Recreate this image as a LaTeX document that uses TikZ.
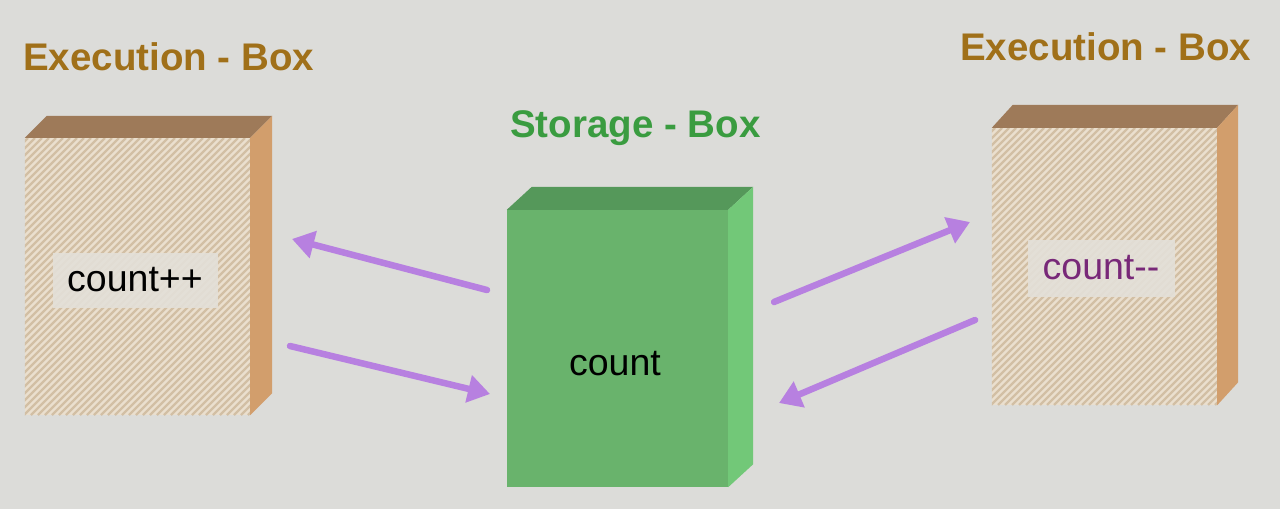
\documentclass[tikz,border=0pt]{standalone}
\usepackage{fontspec}
\setmainfont{Liberation Sans}
\usetikzlibrary{calc,arrows.meta}
\definecolor{bg}{RGB}{220,220,217}
\definecolor{exfront}{RGB}{234,223,206}
\definecolor{exhatch}{RGB}{210,191,164}
\definecolor{extop}{RGB}{158,122,89}
\definecolor{exside}{RGB}{210,158,108}
\definecolor{stfront}{RGB}{105,179,108}
\definecolor{sttop}{RGB}{85,152,90}
\definecolor{stside}{RGB}{114,200,120}
\definecolor{gold}{RGB}{160,112,25}
\definecolor{titlegreen}{RGB}{58,156,64}
\definecolor{arrowc}{RGB}{183,128,224}
\definecolor{lblbg}{RGB}{227,224,217}
\definecolor{minus}{RGB}{120,40,120}
\tikzset{
  frontface/.style={draw=none, rectangle, inner sep=0pt},
  titletext/.style={font=\bfseries\fontsize{38.5}{46}\selectfont, inner sep=0pt},
  lbl/.style={fill=lblbg, fill opacity=0.9, text opacity=1, inner sep=0pt, font=\fontsize{37.5}{44}\selectfont},
  hatch/.style={draw=exhatch, line width=2.4pt},
  flow/.style={draw=arrowc, line width=6.5pt, line cap=round, -{Triangle[length=22pt,width=27pt]}}
}
\begin{document}
\begin{tikzpicture}[x=1pt,y=-1pt]
\useasboundingbox (0,0) rectangle (1280,509);
\fill[bg] (0,0) rectangle (1280,509);

% ---------- left execution box ----------
\node[frontface, fill=exfront, minimum width=225, minimum height=277] (L) at (137.5,276.5) {};
\begin{scope}
  \clip (L.south west) rectangle (L.north east);
  \foreach \i in {-256,-249,...,252} \draw[hatch] (\i,415) -- (\i+277,138);
\end{scope}
\fill[extop] (L.north west) -- ++(22,-22) -- ($(L.north east)+(22,-22)$) -- (L.north east) -- cycle;
\fill[exside] (L.north east) -- ++(22,-22) -- ($(L.south east)+(22,-22)$) -- (L.south east) -- cycle;
\node[lbl, minimum width=165, minimum height=55] (Lc) at (135,280) {count++};
\node[titletext, text=gold, anchor=west] (Lt) at (23,57) {Execution - Box};

% ---------- storage box ----------
\node[frontface, fill=stfront, minimum width=221, minimum height=277] (S) at (617.5,348.5) {};
\fill[sttop] (S.north west) -- ++(25,-23) -- ($(S.north east)+(25,-23)$) -- (S.north east) -- cycle;
\fill[stside] (S.north east) -- ++(25,-23) -- ($(S.south east)+(25,-23)$) -- (S.south east) -- cycle;
\node[font=\fontsize{37.5}{44}\selectfont, inner sep=0pt] (Sc) at (615,364) {count};
\node[titletext, text=titlegreen, anchor=west] (St) at (510,128) {Storage - Box};

% ---------- right execution box ----------
\node[frontface, fill=exfront, minimum width=225, minimum height=277] (R) at (1104.5,266.5) {};
\begin{scope}
  \clip (R.south west) rectangle (R.north east);
  \foreach \i in {711,718,...,1222} \draw[hatch] (\i,405) -- (\i+277,128);
\end{scope}
\fill[extop] (R.north west) -- ++(21,-23) -- ($(R.north east)+(21,-23)$) -- (R.north east) -- cycle;
\fill[exside] (R.north east) -- ++(21,-23) -- ($(R.south east)+(21,-23)$) -- (R.south east) -- cycle;
\node[lbl, minimum width=147, minimum height=57, text=minus] (Rc) at (1101,268) {count{-}{-}};
\node[titletext, text=gold, anchor=west] (Rt) at (960,47) {Execution - Box};

% ---------- arrows ----------
\coordinate (a1s) at (487,290); \coordinate (a1e) at (292,239);
\coordinate (a2s) at (290,346); \coordinate (a2e) at (490,394);
\coordinate (a3s) at (774,302); \coordinate (a3e) at (970,222);
\coordinate (a4s) at (975,320); \coordinate (a4e) at (779,403);
\draw[flow] (a1s) -- (a1e);
\draw[flow] (a2s) -- (a2e);
\draw[flow] (a3s) -- (a3e);
\draw[flow] (a4s) -- (a4e);
\end{tikzpicture}
\end{document}
